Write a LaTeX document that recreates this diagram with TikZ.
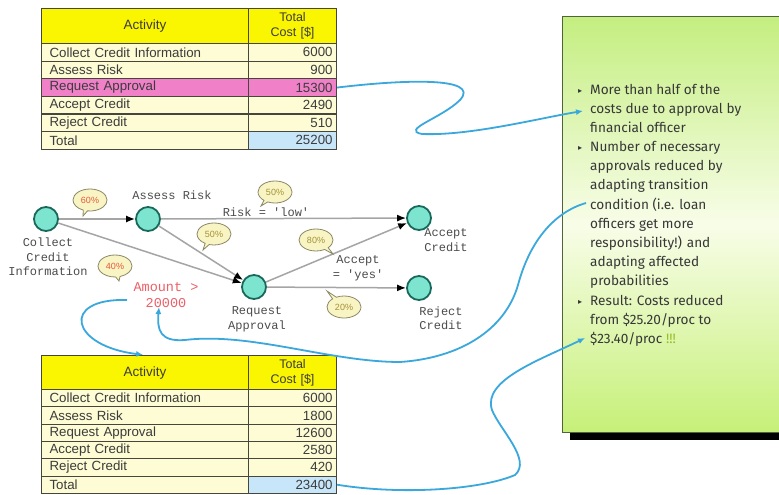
\documentclass[tikz,border=0pt]{standalone}
\usepackage{fontspec}
\setmainfont{Liberation Sans}
\newfontfamily\monofont{Liberation Mono}
\newfontfamily\notefont{Fira Sans}
\newfontfamily\symfont{DejaVu Sans}
\usetikzlibrary{arrows.meta,shapes.geometric,shapes.callouts}

\definecolor{hdr}{RGB}{250,245,0}
\definecolor{rowc}{RGB}{253,252,212}
\definecolor{pinkrow}{RGB}{240,128,200}
\definecolor{totc}{RGB}{200,230,250}
\definecolor{tline}{RGB}{70,70,60}
\definecolor{txt}{RGB}{60,60,60}
\definecolor{edgec}{RGB}{165,165,165}
\definecolor{actfill}{RGB}{125,228,208}
\definecolor{actline}{RGB}{25,105,90}
\definecolor{balfill}{RGB}{248,244,196}
\definecolor{balline}{RGB}{140,135,100}
\definecolor{redtxt}{RGB}{232,90,60}
\definecolor{olive}{RGB}{165,145,55}
\definecolor{amount}{RGB}{236,96,104}
\definecolor{flow}{RGB}{58,168,220}
\definecolor{noteA}{RGB}{196,238,128}
\definecolor{noteB}{RGB}{248,253,232}
\definecolor{noteC}{RGB}{198,240,120}
\definecolor{noteline}{RGB}{80,100,60}
\definecolor{notetxt}{RGB}{55,55,55}
\definecolor{bang}{RGB}{150,190,40}

\tikzset{
  hdrL/.style={draw=tline, line width=1.1pt, fill=hdr, anchor=north west,
    text width=199pt, inner xsep=4pt, inner ysep=0pt, align=center, text=txt,
    font=\fontsize{13.5}{15}\selectfont},
  hdrR/.style={draw=tline, line width=1.1pt, fill=hdr, anchor=north west,
    text width=80pt, inner xsep=4pt, inner ysep=0pt, align=center, text=txt,
    font=\fontsize{12.5}{15}\selectfont},
  cellL/.style={draw=tline, line width=1.1pt, anchor=north west,
    text width=199pt, inner xsep=4pt, inner ysep=0pt, align=left, text=txt,
    font=\fontsize{13.3}{14}\selectfont},
  cellR/.style={draw=tline, line width=1.1pt, anchor=north west,
    text width=80pt, inner xsep=4pt, inner ysep=0pt, align=right, text=txt,
    font=\fontsize{13.3}{14}\selectfont},
  act/.style={circle, draw=actline, line width=1.8pt, fill=actfill,
    minimum size=24pt, inner sep=0pt},
  plbl/.style={align=center, text=black!70, inner sep=0pt,
    font=\monofont\fontsize{12}{14.5}\selectfont},
  flowedge/.style={draw=edgec, line width=1.5pt,
    -{Latex[length=9pt,width=7pt,black]}},
  bal/.style={ellipse callout, draw=balline, line width=0.8pt, fill=balfill,
    minimum width=34pt, minimum height=22pt, inner sep=0pt,
    font=\fontsize{9}{10}\selectfont},
  link/.style={draw=flow, line width=1.8pt, -{Latex[length=7pt,width=6pt]}},
  notebox/.style={draw=noteline, line width=0.8pt, top color=noteA,
    bottom color=noteC, middle color=noteB, anchor=north west,
    minimum width=230pt, minimum height=416pt, inner sep=0pt}
}

% cost table: #1 name prefix, #2 top edge, #3 header height, #4 row height, #5 rows
\newcommand\costtable[5]{%
  \node[hdrL, minimum height=#3] (#1hA) at (41,#2) {Activity};
  \node[hdrR, minimum height=#3] (#1hC) at (248,#2) {Total\\Cost [\$]};
  \foreach \i/\act/\val/\fa/\fb in {#5} {
    \node[cellL, minimum height=#4, fill=\fa] (#1a\i) at (41,{#2+#3+(\i-1)*#4})
      {\hspace*{4pt}\act};
    \node[cellR, minimum height=#4, fill=\fb] (#1v\i) at (248,{#2+#3+(\i-1)*#4}) {\val};
  }%
}

\newcommand\bul{{\symfont\fontsize{8}{9}\selectfont\raisebox{1pt}{▸}}}

\begin{document}
\begin{tikzpicture}[x=1pt, y=-1pt]
\useasboundingbox (0,0) rectangle (779,495);
\clip (0,0) rectangle (779,495);
\fill[white] (0,0) rectangle (779,495);

% ---- note box with results ----
\fill[black] (570,424) rectangle (795,440);
\node[notebox] (note) at (562,16) {};
\node[anchor=base west, inner sep=0pt, text=notetxt,
      font=\notefont\fontsize{13.6}{19.2}\selectfont] (notetext) at (578,94) {%
  \begin{tabular}[t]{@{}l@{\hspace{8pt}}l@{}}
  \bul & More than half of the\\
       & costs due to approval by\\
       & financial officer\\
  \bul & Number of necessary\\
       & approvals reduced by\\
       & adapting transition\\
       & condition (i.e. loan\\
       & officers get more\\
       & responsibility!) and\\
       & adapting affected\\
       & probabilities\\
  \bul & Result: Costs reduced\\
       & from \$25.20/proc to\\
       & \$23.40/proc {\color{bang}!!!}
  \end{tabular}};
\coordinate (n1) at (583,111);
\coordinate (n2) at (586,203);
\coordinate (n3) at (585,338);

% ---- cost tables ----
\costtable{u}{8}{35}{17.6}{%
  1/Collect Credit Information/6000/rowc/rowc,
  2/Assess Risk/900/rowc/rowc,
  3/Request Approval/15300/pinkrow/pinkrow,
  4/Accept Credit/2490/rowc/rowc,
  5/Reject Credit/510/rowc/rowc,
  6/Total/25200/rowc/totc}
\costtable{l}{355}{34}{17.3}{%
  1/Collect Credit Information/6000/rowc/rowc,
  2/Assess Risk/1800/rowc/rowc,
  3/Request Approval/12600/rowc/rowc,
  4/Accept Credit/2580/rowc/rowc,
  5/Reject Credit/420/rowc/rowc,
  6/Total/23400/rowc/totc}

% ---- process graph ----
\node[act] (collect) at (46,219) {};
\node[act] (assess)  at (148,219) {};
\node[act] (request) at (254,287) {};
\node[act] (accept)  at (419,218) {};
\node[act] (reject)  at (419,288) {};

\draw[flowedge] (collect) -- (assess);
\draw[flowedge] (collect) -- (request);
\draw[flowedge] (assess) -- (request);
\draw[flowedge] (assess) -- (accept);
\draw[flowedge] (request) -- (accept);
\draw[flowedge] (request) -- (reject);

\node[plbl] (lcollect) at (48,257) {Collect\\Credit\\Information};
\node[plbl] (lassess)  at (172,195) {Assess Risk};
\node[plbl] (lrequest) at (257,319) {Request\\Approval};
\node[plbl] (laccept)  at (446,240) {Accept\\Credit};
\node[plbl] (lreject)  at (441,318) {Reject\\Credit};
\node[plbl] (lrisk)    at (266,212) {Risk = \textquotesingle low\textquotesingle};
\node[plbl] (lyes)     at (358,268) {Accept\\= \textquotesingle yes\textquotesingle};
\node[plbl, text=amount, font=\monofont\fontsize{13.5}{16}\selectfont]
  (amt) at (166,295) {Amount >\\20000};

% probabilities
\node[bal, text=redtxt, callout absolute pointer={(83,216)}] (p60) at (90,200) {60\%};
\node[bal, text=redtxt, callout absolute pointer={(119,281)}] (p40) at (115,266) {40\%};
\node[bal, text=olive, callout absolute pointer={(261,206)}] (p50a) at (275,192) {50\%};
\node[bal, text=olive, callout absolute pointer={(203,250)}] (p50b) at (214,234) {50\%};
\node[bal, text=olive, callout absolute pointer={(333,254)}] (p80) at (316,240) {80\%};
\node[bal, text=olive, callout absolute pointer={(327,291)}] (p20) at (344,307) {20\%};

% ---- annotation links ----
\coordinate (amtTip) at (159,307);
\coordinate (amtStart) at (127,300);
\draw[link] (uv3.east) .. controls (400,80) and (482,76) .. (460,100)
  .. controls (442,118) and (400,130) .. (422,134)
  .. controls (470,136) and (540,118) .. (n1);
\draw[link] (n2) .. controls (555,212) and (530,240) .. (518,285)
  .. controls (505,330) and (460,358) .. (400,362)
  .. controls (330,362) and (250,332) .. (185,340)
  .. controls (160,342) and (157,330) .. (amtTip);
\draw[link] (lv6.east) .. controls (400,495) and (480,490) .. (515,475)
  .. controls (532,460) and (500,430) .. (492,410)
  .. controls (482,380) and (540,360) .. (n3);
\draw[link, shorten >=2pt] (amtStart) .. controls (60,298) and (70,346) .. (lhA.north);
\end{tikzpicture}
\end{document}
